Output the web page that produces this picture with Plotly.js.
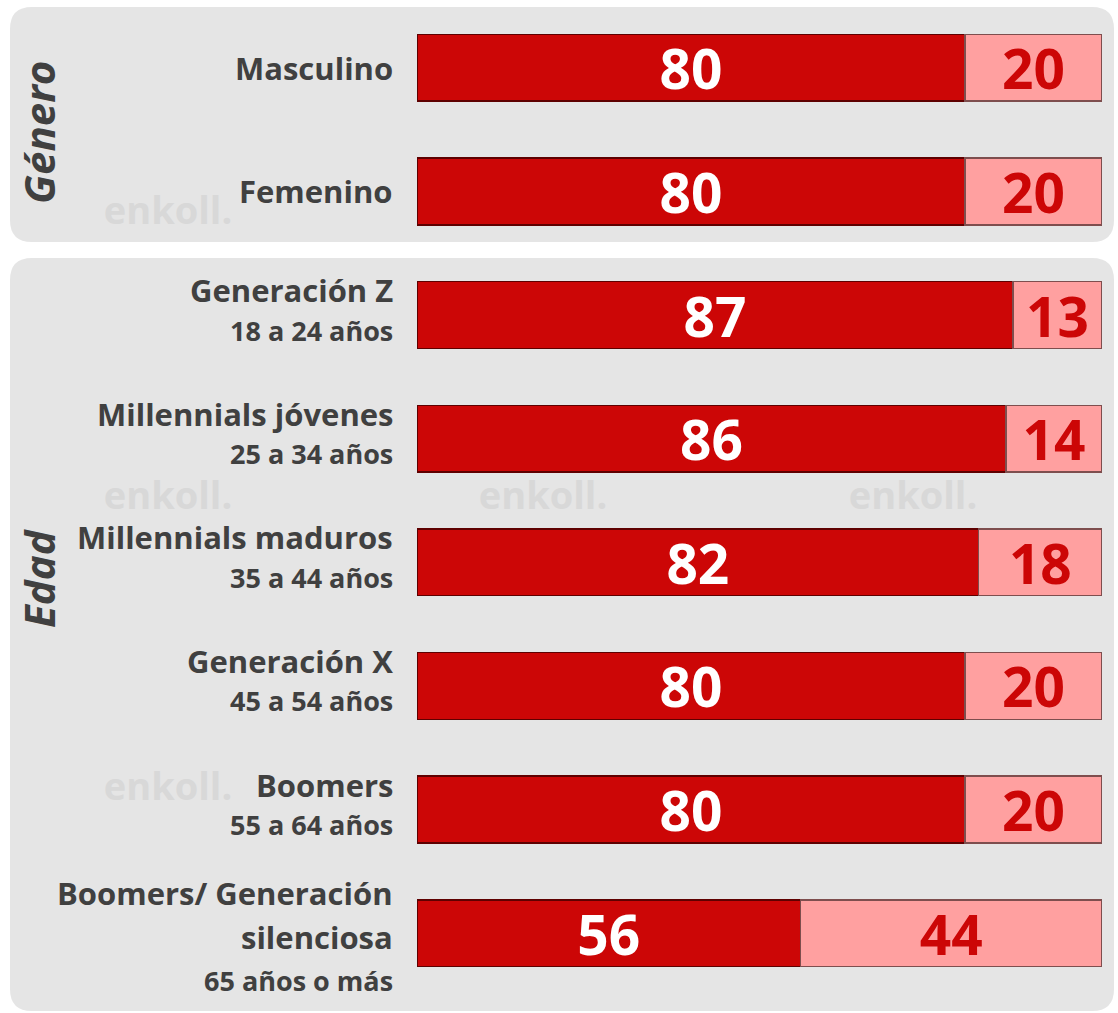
<!DOCTYPE html>
<html>
<head>
<meta charset="utf-8">
<script src="https://cdn.plot.ly/plotly-3.0.1.min.js"></script>
<style>html,body{margin:0;padding:0;background:#fff;}#chart{width:1118px;height:1013px;}</style>
</head>
<body>
<div id="chart"></div>
<script>
// ---- data ----
var categories = ["Masculino", "Femenino", "Generación Z", "Millennials jóvenes", "Millennials maduros", "Generación X", "Boomers", "Boomers/ Generación silenciosa"];
var mainLabels = [["Masculino"], ["Femenino"], ["Generación Z"], ["Millennials jóvenes"], ["Millennials maduros"], ["Generación X"], ["Boomers"], ["Boomers/ Generación", "silenciosa"]];
var subLabels = ["", "", "18 a 24 años", "25 a 34 años", "35 a 44 años", "45 a 54 años", "55 a 64 años", "65 años o más"];
var valuesYes = [80, 80, 87, 86, 82, 80, 80, 56];
var valuesNo = [20, 20, 13, 14, 18, 20, 20, 44];
var groupTitles = ["Género", "Edad"];
var watermarkText = "enkoll.";

// ---- layout geometry ----
var W = 1118, H = 1013;
var M = {l: 417, r: 16, t: 6, b: 18};
var PW = W - M.l - M.r, PH = H - M.t - M.b;
function px(x) { return (x - M.l) / PW; }
function py(y) { return (H - M.b - y) / PH; }
function roundRect(x0, y0, x1, y1, r) {
  return "M" + px(x0 + r) + "," + py(y0) +
    " L" + px(x1 - r) + "," + py(y0) +
    " Q" + px(x1) + "," + py(y0) + " " + px(x1) + "," + py(y0 + r) +
    " L" + px(x1) + "," + py(y1 - r) +
    " Q" + px(x1) + "," + py(y1) + " " + px(x1 - r) + "," + py(y1) +
    " L" + px(x0 + r) + "," + py(y1) +
    " Q" + px(x0) + "," + py(y1) + " " + px(x0) + "," + py(y1 - r) +
    " L" + px(x0) + "," + py(y0 + r) +
    " Q" + px(x0) + "," + py(y0) + " " + px(x0 + r) + "," + py(y0) + " Z";
}

var FONT = "Open Sans, Noto Sans, sans-serif";
var labelColor = "#404040";

var traceYes = {
  type: "bar", orientation: "h", name: "Sí",
  x: valuesYes, y: categories,
  marker: {color: "#cc0606", line: {color: "#5e0000", width: 1.5}},
  text: valuesYes.map(String), textposition: "inside", insidetextanchor: "middle",
  textangle: 0, constraintext: "none",
  textfont: {family: FONT, size: 55, color: "#ffffff", weight: 700},
  hoverinfo: "skip"
};
var traceNo = {
  type: "bar", orientation: "h", name: "No",
  x: valuesNo, y: categories,
  marker: {color: "#ffa0a0", line: {color: "#7e4e4e", width: 1.5}},
  text: valuesNo.map(String), textposition: "inside", insidetextanchor: "middle",
  textangle: 0, constraintext: "none",
  textfont: {family: FONT, size: 55, color: "#cc0606", weight: 700},
  hoverinfo: "skip"
};

// category labels: one annotation per line
var annotations = [];
for (var i = 0; i < categories.length; i++) {
  var lines = mainLabels[i].map(function (s) { return {t: s, size: 31}; });
  if (subLabels[i]) lines.push({t: subLabels[i], size: 27});
  var offs;
  if (lines.length === 1) offs = [0];
  else if (lines.length === 2) offs = [25, -15];
  else offs = [40, -4, -47];
  lines.forEach(function (ln, k) {
    annotations.push({
      xref: "paper", yref: "y", x: 0, y: categories[i],
      xanchor: "right", yanchor: "middle", align: "right",
      xshift: -22, yshift: offs[k],
      text: "<b>" + ln.t + "</b>", showarrow: false,
      font: {family: FONT, size: ln.size, color: labelColor}
    });
  });
}
// group titles (rotated)
var titleY = [133, 578];
for (var g = 0; g < groupTitles.length; g++) {
  annotations.push({
    xref: "paper", yref: "paper", x: px(38), y: py(titleY[g]),
    xanchor: "center", yanchor: "middle", textangle: -90,
    text: "<b><i>" + groupTitles[g] + "</i></b>", showarrow: false,
    font: {family: FONT, size: 42, color: labelColor}
  });
}

var shapes = [
  {type: "path", xref: "paper", yref: "paper", path: roundRect(10, 7, 1114, 242, 22), fillcolor: "#e5e5e5", line: {width: 0}, layer: "below"},
  {type: "path", xref: "paper", yref: "paper", path: roundRect(10, 258, 1114, 1011, 22), fillcolor: "#e5e5e5", line: {width: 0}, layer: "below"}
];
// faint watermark in the free gaps, drawn beneath the bars
var wmSpots = [[168, 212], [168, 497], [543, 497], [913, 497], [168, 788]];
wmSpots.forEach(function (p) {
  shapes.push({
    type: "rect", xref: "paper", yref: "paper",
    x0: px(p[0] - 2), x1: px(p[0] + 2), y0: py(p[1] + 2), y1: py(p[1] - 2),
    line: {width: 0}, fillcolor: "rgba(0,0,0,0)", layer: "below",
    label: {text: "<b>" + watermarkText + "</b>", textposition: "middle center",
      font: {family: FONT, size: 38, color: "#d8d8d8"}}
  });
});

var layout = {
  width: W, height: H,
  margin: M,
  paper_bgcolor: "#ffffff", plot_bgcolor: "rgba(0,0,0,0)",
  barmode: "stack", bargap: 0.46,
  showlegend: false,
  xaxis: {range: [0, 100], visible: false, fixedrange: true},
  yaxis: {type: "category", categoryorder: "array", categoryarray: categories, range: [7.5, -0.5], visible: false, fixedrange: true},
  shapes: shapes,
  annotations: annotations,
  font: {family: FONT}
};

Plotly.newPlot("chart", [traceYes, traceNo], layout, {staticPlot: true, displayModeBar: false});
</script>
</body>
</html>
